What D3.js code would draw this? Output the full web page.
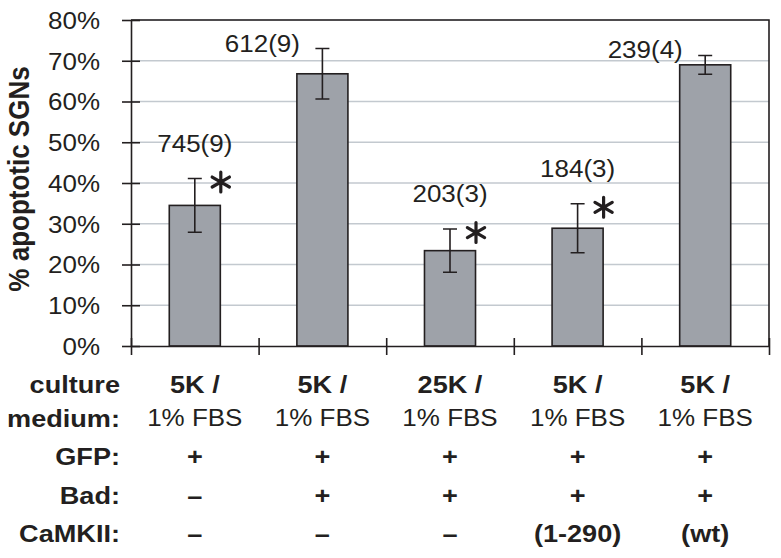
<!DOCTYPE html>
<html><head><meta charset="utf-8">
<script src="https://cdn.jsdelivr.net/npm/d3@7"></script>
<style>
html,body{margin:0;padding:0;background:#fff;}
text{font-family:"Liberation Sans",Arial,sans-serif;fill:#231f20;}
</style></head>
<body><svg id="c" width="781" height="558"></svg>
<script>
// ---- data ----
const groups = [0, 1, 2, 3, 4];
const means = [34.5, 66.8, 23.4, 28.9, 69.0];
const errs = [6.6, 6.2, 5.3, 6.0, 2.3];
const counts = ["745(9)", "612(9)", "203(3)", "184(3)", "239(4)"];
const significant = [true, false, true, true, false];
const yTicks = [0, 10, 20, 30, 40, 50, 60, 70, 80];
const rowLabels = ["culture", "medium:", "GFP:", "Bad:", "CaMKII:"];
const culture = ["5K /", "5K /", "25K /", "5K /", "5K /"];
const medium = ["1% FBS", "1% FBS", "1% FBS", "1% FBS", "1% FBS"];
const gfp = ["+", "+", "+", "+", "+"];
const bad = ["\u2013", "+", "+", "+", "+"];
const camkii = ["\u2013", "\u2013", "\u2013", "(1-290)", "(wt)"];
const yTitle = "% apoptotic SGNs";

// ---- layout ----
const L = 131, R = 769, T = 20, B = 346;
const SX = 1.13; // horizontal stretch of the text
const ink = "#231f20";
const svg = d3.select("#c");

const x = d3.scaleBand().domain(groups).range([L, R]).paddingInner(0.6).paddingOuter(0.3);
const xg = d3.scaleBand().domain(groups).range([L, R]);
const y = d3.scaleLinear().domain([0, 80]).range([B, T]);

function stext(sel, px, py, sx, sy) {
  return sel.attr("x", 0).attr("y", 0)
    .attr("transform", `translate(${px},${py}) scale(${sx || SX},${sy || 1})`);
}

// gridlines
svg.append("g").selectAll("line").data(yTicks.filter(d => d > 0)).join("line")
  .attr("x1", L).attr("x2", R).attr("y1", d => y(d)).attr("y2", d => y(d))
  .attr("stroke", "#c3c9cf").attr("stroke-width", 1.6);

// frame top/right
svg.append("path").attr("d", `M${L},${T}H${R}V${B}`).attr("fill", "none")
  .attr("stroke", ink).attr("stroke-width", 1.6);

// bars
svg.append("g").selectAll("rect").data(groups).join("rect")
  .attr("x", i => x(i)).attr("width", x.bandwidth())
  .attr("y", i => y(means[i])).attr("height", i => B - y(means[i]))
  .attr("fill", "#9ea2a9").attr("stroke", ink).attr("stroke-width", 1.6);

// error bars
const eb = svg.append("g").attr("stroke", ink).attr("stroke-width", 1.6).attr("fill", "none");
eb.selectAll("path").data(groups).join("path")
  .attr("d", i => {
    const cx = x(i) + x.bandwidth() / 2, t = y(means[i] + errs[i]), b = y(means[i] - errs[i]);
    return `M${cx},${t}V${b}M${cx - 7},${t}H${cx + 7}M${cx - 7},${b}H${cx + 7}`;
  });

// y axis
const yAxis = d3.axisLeft(y).tickValues(yTicks).tickFormat(d => d + "%").tickSizeInner(9).tickSizeOuter(0);
const ga = svg.append("g").attr("transform", `translate(${L},0)`).call(yAxis);
ga.select(".domain").attr("stroke", ink).attr("stroke-width", 1.6);
ga.selectAll(".tick line").attr("stroke", ink).attr("stroke-width", 1.6);
ga.selectAll(".tick").append("line").attr("x1", 0).attr("x2", 9).attr("stroke", ink).attr("stroke-width", 1.6);
ga.selectAll(".tick text").each(function () {
  d3.select(this).attr("x", 0).attr("dy", "0.36em").attr("text-anchor", "end")
    .attr("transform", `translate(-31,0) scale(${SX},1)`)
    .style("font-size", "23px").attr("fill", ink);
});

// x axis
const xAxis = d3.axisBottom(d3.scaleLinear().domain([0, 5]).range([L, R]))
  .tickValues(d3.range(6)).tickFormat("").tickSizeInner(9).tickSizeOuter(0);
const gx = svg.append("g").attr("transform", `translate(0,${B})`).call(xAxis);
gx.select(".domain").attr("stroke", ink).attr("stroke-width", 1.6);
gx.selectAll(".tick line").attr("stroke", ink).attr("stroke-width", 1.6);
gx.selectAll(".tick").append("line").attr("y1", 0).attr("y2", -8).attr("stroke", ink).attr("stroke-width", 1.6);

// count labels
groups.forEach(i => {
  const cx = x(i) + x.bandwidth() / 2;
  const top = y(means[i] + errs[i]);
  const crowded = top < 80;
  const lx = crowded ? cx - 60 : cx;
  const ly = crowded ? top + 3 : top - 27;
  stext(svg.append("text").attr("text-anchor", "middle").style("font-size", "23px").text(counts[i]), lx, ly);
  if (significant[i]) {
    svg.append("path")
      .attr("d", d3.symbol(d3.symbolAsterisk, 280)())
      .attr("transform", `translate(${cx + 26},${top + 3.5})`)
      .attr("stroke", ink).attr("stroke-width", 3.2).attr("fill", "none").attr("stroke-linecap", "round");
  }
});

// y title
svg.append("text").attr("text-anchor", "middle").style("font-size", "26px").style("font-weight", "bold")
  .attr("x", 0).attr("y", 0).attr("dy", "0.35em")
  .attr("transform", `translate(19,179) rotate(-90) scale(1,${SX})`)
  .text(yTitle);

// table
const rows = [culture, medium, gfp, bad, camkii];
const rowY = [384, 418, 456, 495, 533];
const rowBold = [true, false, true, true, true];
rows.forEach((r, k) => {
  stext(svg.append("text").attr("text-anchor", "end").attr("dy", "0.36em")
    .style("font-size", "24px").style("font-weight", "bold").text(rowLabels[k]), 120, rowY[k]);
  r.forEach((v, i) => {
    stext(svg.append("text").attr("text-anchor", "middle").attr("dy", "0.36em")
      .style("font-size", rowBold[k] ? "24px" : "23px").style("font-weight", rowBold[k] ? "bold" : "normal")
      .text(v), xg(i) + xg.bandwidth() / 2, rowY[k]);
  });
});
</script></body></html>
